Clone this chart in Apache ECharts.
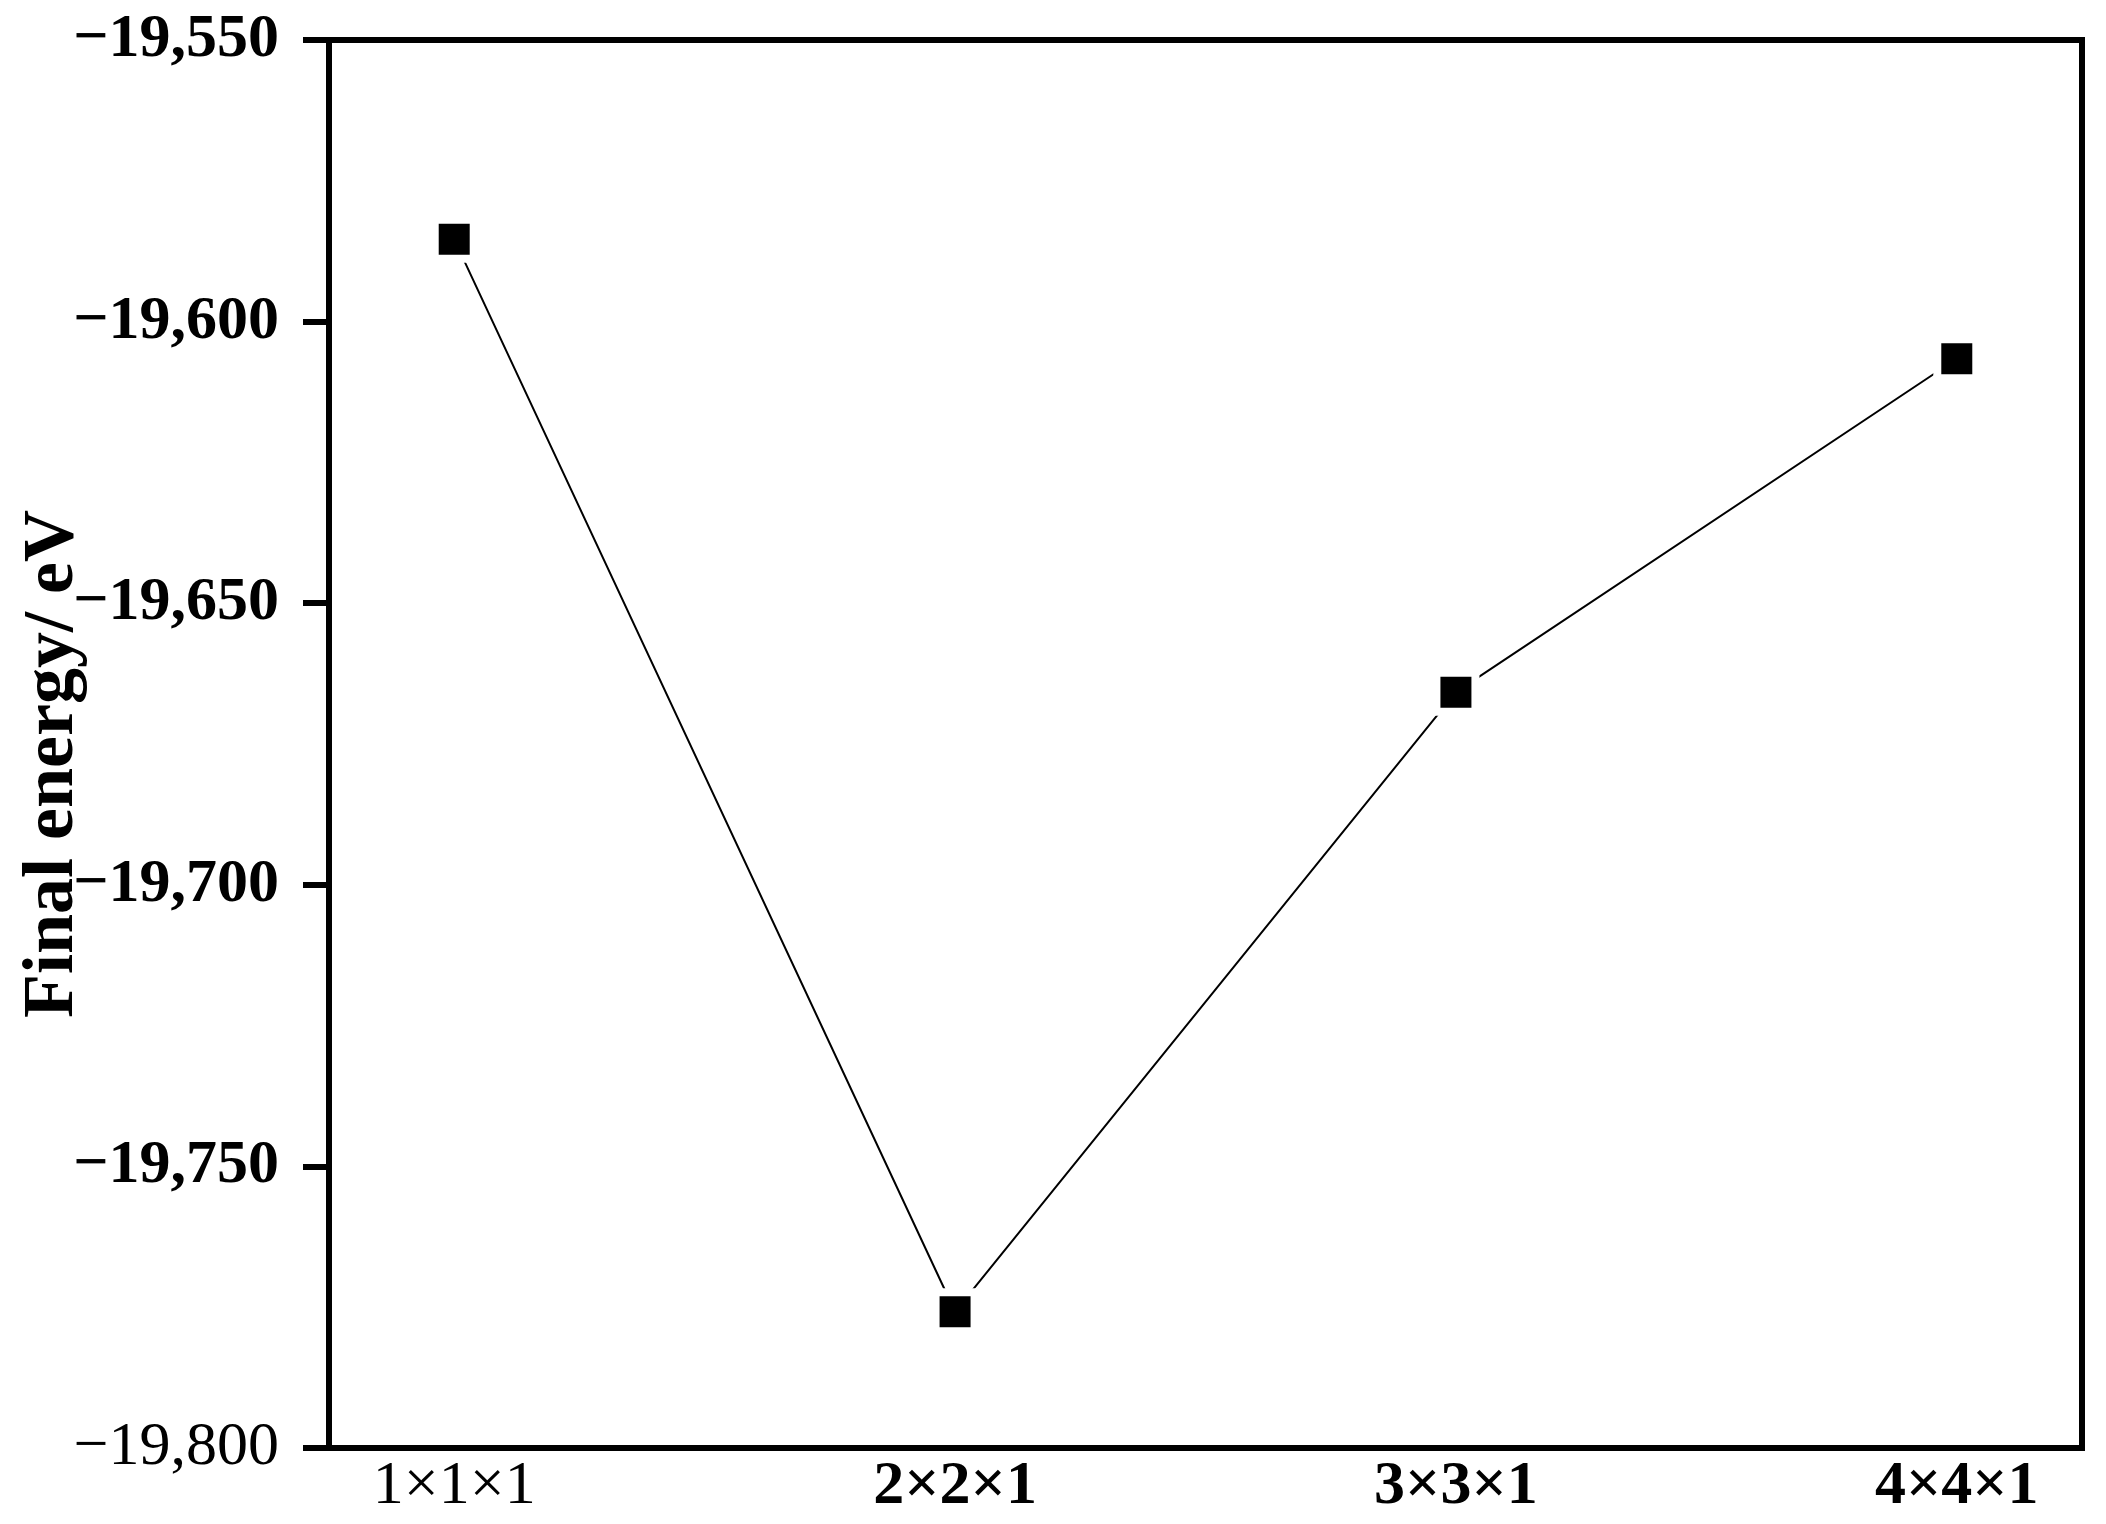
<!DOCTYPE html>
<html>
<head>
<meta charset="utf-8">
<title>Final energy</title>
<script src="https://cdn.jsdelivr.net/npm/echarts@6/dist/echarts.min.js"></script>
<style>
    html, body { margin: 0; padding: 0; background: #fff; }
    #chart { width: 2106px; height: 1524px; }
</style>
</head>
<body>
<div id="chart"></div>
<script>
    // supercell sizes and the final energy of each (eV)
    const cells = ['1×1×1', '2×2×1', '3×3×1', '4×4×1']
    const cellPos = [1, 2, 3, 4]
    const energy = [-19585.4, -19775.8, -19665.8, -19606.6]
    const yTicks = [-19800, -19750, -19700, -19650, -19600, -19550]

    const font = '"Times New Roman", "Liberation Serif", serif'
    const points = cellPos.map((x, i) => [x, energy[i]])

    // the lowest tick and the first cell are drawn lighter in the source picture
    const fmtY = v => {
        const s = '\u2212' + Math.abs(v).toLocaleString('en-US')
        return v === yTicks[0] ? '{n|' + s + '}' : s
    }
    const fmtX = v => {
        const i = cellPos.indexOf(Math.round(v))
        if (i < 0) return ''
        return i === 0 ? '{n|' + cells[i] + '}' : cells[i]
    }
    const lightRich = { n: { fontFamily: font, fontWeight: 'normal', fontSize: 62, color: '#000' } }

    const chart = echarts.init(document.getElementById('chart'))
    chart.setOption({
        animation: false,
        backgroundColor: '#fff',
        grid: {
            left: 329, right: 24, top: 40, bottom: 76,
            outerBoundsMode: 'none',
            containLabel: false,
            show: true, borderColor: '#000', borderWidth: 6
        },
        xAxis: {
            type: 'value',
            min: 0.75,
            max: 4.25,
            splitLine: { show: false },
            axisLine: { lineStyle: { color: '#000', width: 6 } },
            axisTick: { show: false },
            axisLabel: {
                customValues: cellPos,
                formatter: fmtX,
                margin: 8,
                color: '#000',
                fontFamily: font,
                fontWeight: 'bold',
                fontSize: 62,
                rich: lightRich
            }
        },
        yAxis: {
            type: 'value',
            min: -19800,
            max: -19550,
            interval: 50,
            name: 'Final energy/ eV',
            nameLocation: 'middle',
            nameRotate: 90,
            nameGap: 240,
            nameMoveOverlap: false,
            nameTextStyle: { color: '#000', fontFamily: font, fontWeight: 'bold', fontSize: 72, padding: [0, 40, 0, 0] },
            splitLine: { show: false },
            axisLine: { show: true, lineStyle: { color: '#000', width: 6 } },
            axisTick: { show: true, inside: false, length: 26, lineStyle: { color: '#000', width: 6 } },
            axisLabel: {
                formatter: fmtY,
                margin: 50,
                color: '#000',
                fontFamily: font,
                fontWeight: 'bold',
                fontSize: 62,
                rich: lightRich
            }
        },
        series: [{
            type: 'line',
            data: points,
            symbol: 'rect',
            symbolSize: 39,
            lineStyle: { color: '#000', width: 2 },
            itemStyle: { color: '#000', borderColor: '#fff', borderWidth: 8 },
            emphasis: { disabled: true },
            z: 3
        }]
    })
</script>
</body>
</html>
